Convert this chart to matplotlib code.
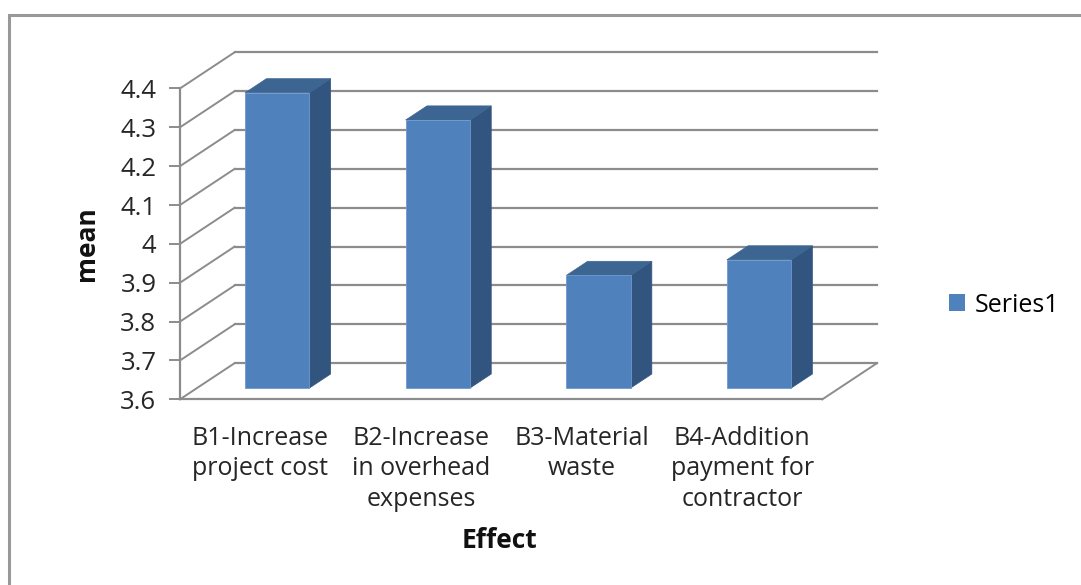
import matplotlib
matplotlib.use("Agg")
import matplotlib.pyplot as plt
from matplotlib.patches import Polygon, Rectangle, Patch

# chart data
categories = ["B1-Increase\nproject cost", "B2-Increase\nin overhead\nexpenses",
              "B3-Material\nwaste", "B4-Addition\npayment for\ncontractor"]
means = [4.36, 4.29, 3.89, 3.93]
yticks = [3.6, 3.7, 3.8, 3.9, 4.0, 4.1, 4.2, 4.3, 4.4]
ytick_labels = ["3.6", "3.7", "3.8", "3.9", "4", "4.1", "4.2", "4.3", "4.4"]
series_name = "Series1"

W, H = 1081, 585
FONT = "Open Sans"
FS = 18
TXT = "#262626"
GRID = "#8c8c8c"
FRONT = "#4f81bd"
SIDE = "#325580"
TOP = "#3d6592"

YMIN, YMAX = 3.6, 4.4
DX, DY = 0.34, 0.093          # depth of the 3d box (category units, value units)
F0, F1 = 0.31, 0.70           # bar front/back position inside the depth
BAR_W = 0.4

fig = plt.figure(figsize=(W / 100, H / 100), dpi=100)
fig.patch.set_facecolor("white")

# axes box: front plane left edge at 180px, floor at 399px, back wall top at 52px
x0, x1, y0, y1 = 180, 877, 399.3, 52.3
ax = fig.add_axes([x0 / W, 1 - y0 / H, (x1 - x0) / W, (y0 - y1) / H])
n = len(means)
ax.set_xlim(0, n + DX)
ax.set_ylim(YMIN, YMAX + DY)
ax.patch.set_alpha(0)

# back wall gridlines + left wall diagonals
for v in yticks:
    ax.plot([DX, n + DX], [v + DY, v + DY], color=GRID, lw=1.6, zorder=1, clip_on=False)
    ax.plot([0, DX], [v, v + DY], color=GRID, lw=1.4, zorder=1, clip_on=False)

# floor
ax.plot([0, n], [YMIN, YMIN], color=GRID, lw=1.6, zorder=1, clip_on=False)
ax.plot([n, n + DX], [YMIN, YMIN + DY], color=GRID, lw=1.4, zorder=1, clip_on=False)

# spines / ticks
for s in ["top", "right", "bottom"]:
    ax.spines[s].set_visible(False)
ax.spines["left"].set_bounds(YMIN, YMAX)
ax.spines["left"].set_color(GRID)
ax.spines["left"].set_linewidth(1.6)
ax.set_yticks(yticks)
ax.set_yticklabels(ytick_labels, fontsize=FS + 0.5, family=FONT, color=TXT)
ax.tick_params(axis="y", direction="out", length=8, width=1.4, color=GRID, pad=9)

# category labels sit under the front edge of the floor
ax.set_xticks([i + 0.5 for i in range(n)])
ax.set_xticklabels(categories, fontsize=FS, family=FONT, color=TXT, linespacing=1.3)
ax.tick_params(axis="x", length=0, pad=19)

# bars: front faces through ax.bar, side and top faces as polygons
centers = [i + 0.5 + F0 * DX for i in range(n)]
base = YMIN + F0 * DY
ax.bar(centers, [m - YMIN for m in means], bottom=base, width=BAR_W,
       color=FRONT, edgecolor="#6f98cc", linewidth=0.6, zorder=3, clip_on=False)
ddx = (F1 - F0) * DX
ddy = (F1 - F0) * DY
for c, m in zip(centers, means):
    xl, xr = c - BAR_W / 2, c + BAR_W / 2
    t = m + F0 * DY
    side = Polygon([(xr, base), (xr + ddx, base + ddy), (xr + ddx, t + ddy), (xr, t)],
                   closed=True, facecolor=SIDE, edgecolor=SIDE, lw=0.5, zorder=2, clip_on=False)
    top = Polygon([(xl, t), (xr, t), (xr + ddx, t + ddy), (xl + ddx, t + ddy)],
                  closed=True, facecolor=TOP, edgecolor=TOP, lw=0.5, zorder=2, clip_on=False)
    ax.add_patch(side)
    ax.add_patch(top)

fig.text(87 / W, 1 - 244 / H, "mean", rotation=90, ha="center", va="center",
         fontsize=FS + 1, fontweight="bold", family=FONT, color="#111111")
fig.text(500 / W, 1 - 540 / H, "Effect", ha="center", va="center",
         fontsize=FS + 1, fontweight="bold", family=FONT, color="#111111")

# legend
fig.legend(handles=[Patch(facecolor=FRONT)], labels=[series_name],
           loc="center left", bbox_to_anchor=(949 / W, 1 - 305 / H),
           frameon=False, handlelength=0.65, handleheight=0.65,
           handletextpad=0.4, borderpad=0, borderaxespad=0,
           prop={"family": FONT, "size": FS})

# chart area border (runs off the right and bottom edges)
fig.patches.append(Rectangle((9 / W, -0.1), 1.2, 1.1 - 15 / H, transform=fig.transFigure,
                             fill=False, edgecolor="#999999", lw=2.2))

fig.savefig("out.png", dpi=100)
